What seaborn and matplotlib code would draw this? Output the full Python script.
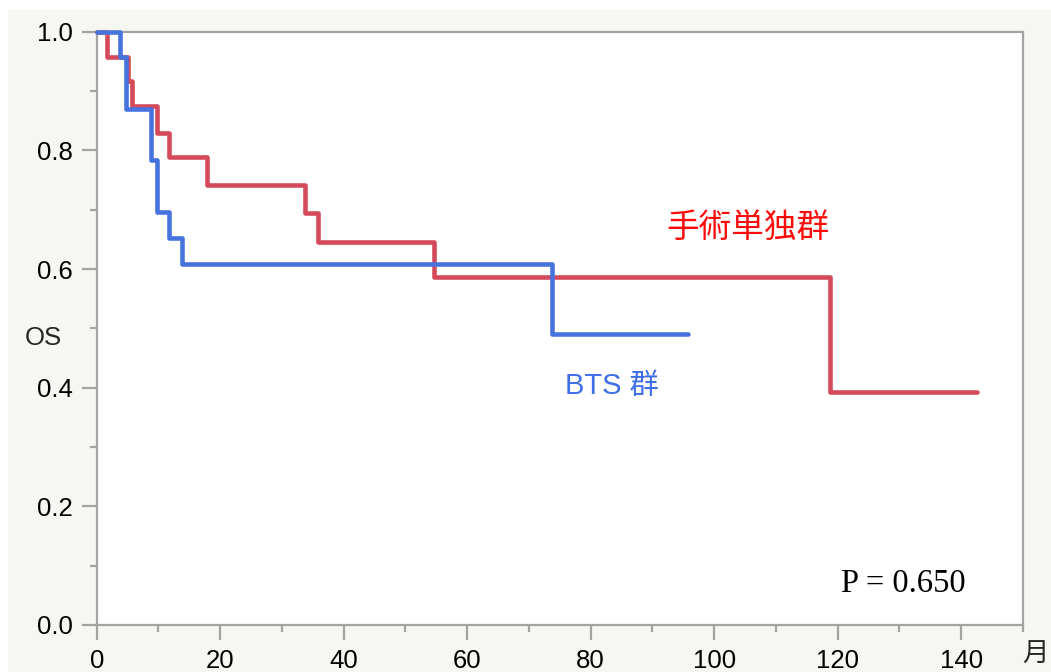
import matplotlib
matplotlib.use("Agg")
import matplotlib.pyplot as plt
from matplotlib.patches import Rectangle
from matplotlib.ticker import MultipleLocator
import numpy as np
import pandas as pd
import seaborn as sns

# Kaplan-Meier step curves (months, overall survival)
surgery_time = [0, 1.7, 5.1, 5.7, 9.75, 11.7, 17.8, 33.7, 35.8, 54.7, 118.8, 142.6]
surgery_os = [1.0, 0.958, 0.917, 0.875, 0.830, 0.788, 0.741, 0.695, 0.645, 0.586, 0.392, 0.392]

bts_time = [0, 3.8, 4.7, 8.8, 9.75, 11.7, 13.8, 73.8, 95.7]
bts_os = [1.0, 0.957, 0.870, 0.783, 0.696, 0.652, 0.609, 0.490, 0.490]

group_names = ["手術単独群", "BTS 群"]
x_ticks = [0, 20, 40, 60, 80, 100, 120, 140]
y_ticks = [0.0, 0.2, 0.4, 0.6, 0.8, 1.0]
p_text = "P = 0.650"

df = pd.concat([
    pd.DataFrame({"month": surgery_time, "OS": surgery_os, "group": group_names[0]}),
    pd.DataFrame({"month": bts_time, "OS": bts_os, "group": group_names[1]}),
], ignore_index=True)

sns.set_theme(style="ticks")
plt.rcParams["font.family"] = ["Liberation Sans", "Noto Sans CJK JP", "DejaVu Sans"]

BG = "#f6f6f2"
AX_GREY = "#a3a3a3"
line_colors = {group_names[0]: "#d44a5a", group_names[1]: "#4673de"}

fig = plt.figure(figsize=(10.51, 6.72), dpi=100)
fig.patch.set_facecolor("white")
fig.patches.append(Rectangle((8 / 1051, 0), 1 - 8 / 1051, (672 - 10) / 672,
                             transform=fig.transFigure, facecolor=BG,
                             edgecolor="none", zorder=-10))

ax = fig.add_axes([96.7 / 1051, 47 / 672, (1023 - 96.7) / 1051, (625 - 31.7) / 672])
ax.set_facecolor("white")

for name in group_names:
    sub = df[df["group"] == name]
    sns.lineplot(data=sub, x="month", y="OS", ax=ax, color=line_colors[name],
                 estimator=None, sort=False, drawstyle="steps-post",
                 linewidth=3.3, legend=False, clip_on=False, zorder=3)

ax.set_xlim(0, 150)
ax.set_ylim(0, 1.0)
ax.set_xticks(x_ticks)
ax.set_yticks(y_ticks)
ax.set_yticklabels([f"{v:.1f}" for v in y_ticks])
ax.xaxis.set_minor_locator(MultipleLocator(10))
ax.yaxis.set_minor_locator(MultipleLocator(0.1))
ax.set_xlabel("")
ax.set_ylabel("")

for side in ["left", "right", "top", "bottom"]:
    ax.spines[side].set_visible(True)
    ax.spines[side].set_color(AX_GREY)
    ax.spines[side].set_linewidth(1.6)

ax.tick_params(axis="both", which="major", length=11, width=1.6, color=AX_GREY,
               labelsize=18.5, labelcolor="black", pad=6)
ax.tick_params(axis="both", which="minor", length=5, width=1.6, color=AX_GREY)

# Group labels and p-value
ax.text(105.4, 0.669, group_names[0], color="#ff0a0a", fontsize=23.5,
        family=["Noto Sans CJK JP"], ha="center", va="center")
ax.text(83.5, 0.403, group_names[1], color="#3f6fe6", fontsize=21,
        family=["Liberation Sans", "Noto Sans CJK JP"], ha="center", va="center")
ax.text(130.6, 0.069, p_text, color="black", fontsize=23.5,
        family=["Liberation Serif"], ha="center", va="center")

fig.text(43.5 / 1051, 1 - 338 / 672, "OS", fontsize=18.5, ha="center", va="center")
fig.text(1035 / 1051, 1 - 654 / 672, "月", fontsize=19,
         family=["Noto Sans CJK JP"], ha="center", va="center")

fig.savefig("out.png", dpi=100, facecolor=fig.get_facecolor())
